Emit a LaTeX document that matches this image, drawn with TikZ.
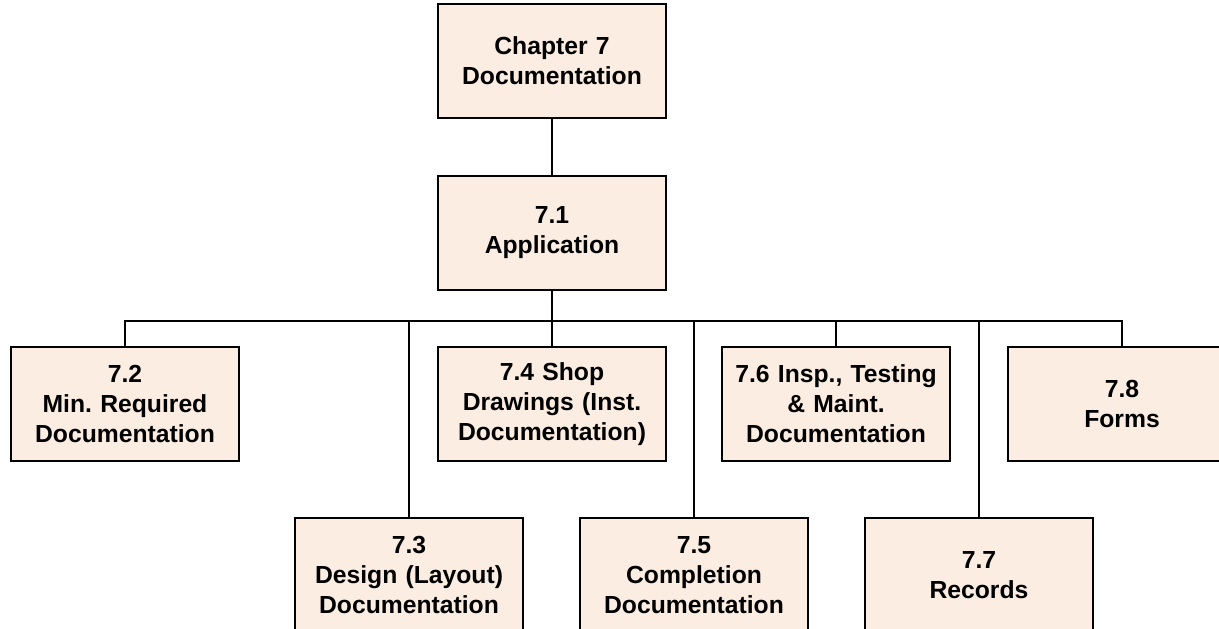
\documentclass[tikz,border=0pt]{standalone}
\usepackage{fontspec}
\setmainfont{Liberation Sans}
\frenchspacing
\definecolor{boxfill}{HTML}{FCEDE2}
\tikzset{
  orgbox/.style={draw=black, line width=2pt, fill=boxfill,
    minimum width=228pt, minimum height=114pt, inner sep=0pt,
    text width=224pt, align=center,
    font=\fontsize{24.7}{30}\selectfont\bfseries},
  link/.style={draw=black, line width=2pt}
}
\begin{document}
\begin{tikzpicture}[x=1pt, y=-1pt]
  \useasboundingbox (0,0) rectangle (1219,629);
  \clip (0,0) rectangle (1219,629);
  \fill[white] (0,0) rectangle (1219,629);

  % hub of the branch line
  \coordinate (bus) at (552,321);

  \node[orgbox] (ch7) at (552,61)  {Chapter 7\\Documentation};
  \node[orgbox] (s71) at (552,233) {7.1\\Application};

  % first row
  \node[orgbox] (s72) at (125,404)  {7.2\\Min. Required\\Documentation};
  \node[orgbox] (s74) at (552,404)  {7.4 Shop\\Drawings (Inst.\\Documentation)};
  \node[orgbox] (s76) at (836,404)  {7.6 Insp., Testing\\\& Maint.\\Documentation};
  \node[orgbox] (s78) at (1122,404) {7.8\\Forms};

  % second row
  \node[orgbox] (s73) at (409,575) {7.3\\Design (Layout)\\Documentation};
  \node[orgbox] (s75) at (694,575) {7.5\\Completion\\Documentation};
  \node[orgbox] (s77) at (979,575) {7.7\\Records};

  % connectors
  \draw[link] (ch7) -- (s71);
  \draw[link] (s71) -- (bus);
  \foreach \n in {s72,s73,s74,s75,s76,s77,s78}
    \draw[link] (\n.north) |- (bus);
\end{tikzpicture}
\end{document}
